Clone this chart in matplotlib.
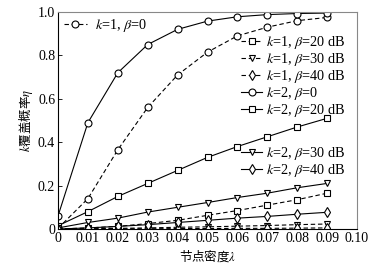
import matplotlib
matplotlib.use('Agg')
import matplotlib.pyplot as plt

plt.rcParams.update({
    'font.family': ['Liberation Serif', 'Noto Sans CJK SC', 'DejaVu Sans'],
    'mathtext.fontset': 'stix',
    'font.size': 10,
})

# node density
density = [0, 0.01, 0.02, 0.03, 0.04, 0.05, 0.06, 0.07, 0.08, 0.09]

# k-coverage probability
k1_b0  = [0.003, 0.14, 0.365, 0.56, 0.71, 0.815, 0.89, 0.93, 0.96, 0.975]
k1_b20 = [0.0, 0.005, 0.012, 0.025, 0.04, 0.063, 0.085, 0.11, 0.135, 0.165]
k1_b30 = [0.0, 0.001, 0.003, 0.005, 0.008, 0.01, 0.013, 0.016, 0.02, 0.023]
k1_b40 = [0.0, 0.0, 0.001, 0.001, 0.002, 0.002, 0.003, 0.003, 0.004, 0.005]
k2_b0  = [0.06, 0.49, 0.72, 0.85, 0.92, 0.958, 0.978, 0.988, 0.993, 0.995]
k2_b20 = [0.015, 0.08, 0.15, 0.21, 0.27, 0.33, 0.38, 0.425, 0.47, 0.51]
k2_b30 = [0.005, 0.03, 0.05, 0.078, 0.10, 0.122, 0.145, 0.165, 0.19, 0.21]
k2_b40 = [0.0, 0.005, 0.012, 0.02, 0.03, 0.04, 0.05, 0.058, 0.068, 0.077]

labels = [r'$k$=1, $\beta$=0', r'$k$=1, $\beta$=20 dB', r'$k$=1, $\beta$=30 dB',
          r'$k$=1, $\beta$=40 dB', r'$k$=2, $\beta$=0', r'$k$=2, $\beta$=20 dB',
          r'$k$=2, $\beta$=30 dB', r'$k$=2, $\beta$=40 dB']
series = [k1_b0, k1_b20, k1_b30, k1_b40, k2_b0, k2_b20, k2_b30, k2_b40]
markers = ['o', 's', 'v', 'd', 'o', 's', 'v', 'd']

W, H = 381, 273
fig = plt.figure(figsize=(W / 100, H / 100), dpi=100)
ax = fig.add_axes([58 / W, 1 - 229 / H, 299 / W, 217 / H])

handles = []
for i, (ys, mk, lab) in enumerate(zip(series, markers, labels)):
    ls = (0, (4, 2.5)) if i < 4 else '-'
    h, = ax.plot(density, ys, linestyle=ls, marker=mk, color='black', lw=0.8,
                 markersize=5, markerfacecolor='white', markeredgewidth=0.8,
                 label=lab)
    handles.append(h)

ax.set_xlim(0, 0.1)
ax.set_ylim(0, 1.0)
ax.set_xticks([0, 0.01, 0.02, 0.03, 0.04, 0.05, 0.06, 0.07, 0.08, 0.09, 0.10])
ax.set_xticklabels(['0', '0.01', '0.02', '0.03', '0.04', '0.05', '0.06',
                    '0.07', '0.08', '0.09', '0.10'])
ax.set_yticks([0, 0.2, 0.4, 0.6, 0.8, 1.0])
ax.set_yticklabels(['0', '0.2', '0.4', '0.6', '0.8', '1.0'])
ax.tick_params(direction='in', length=3, width=0.6, pad=2, labelsize=10)
for s in ['top', 'right']:
    ax.spines[s].set_color('#888888')
for s in ['left', 'bottom']:
    ax.spines[s].set_linewidth(0.8)

ax.set_xlabel(r'节点密度$\lambda$', family=['Noto Sans CJK SC', 'DejaVu Sans'],
              fontsize=9, labelpad=2)
ax.set_ylabel(r'$k$覆盖概率$\eta$', family=['Noto Sans CJK SC', 'DejaVu Sans'],
              fontsize=9, labelpad=2)

common = dict(frameon=False, borderpad=0, borderaxespad=0, labelspacing=0.0,
              fontsize=10.3, loc='upper left')
leg_a = fig.legend(handles[:1], labels[:1], bbox_to_anchor=(64 / W, 1 - 17 / H),
                   handlelength=1.6, handletextpad=0.55, **common)
leg_b = fig.legend(handles[1:6], labels[1:6], bbox_to_anchor=(241 / W, 1 - 34 / H),
                   handlelength=1.5, handletextpad=0.25, **common)
leg_c = fig.legend(handles[6:], labels[6:], bbox_to_anchor=(241 / W, 1 - 145 / H),
                   handlelength=1.5, handletextpad=0.25, **common)

fig.savefig('out.png', dpi=100)
